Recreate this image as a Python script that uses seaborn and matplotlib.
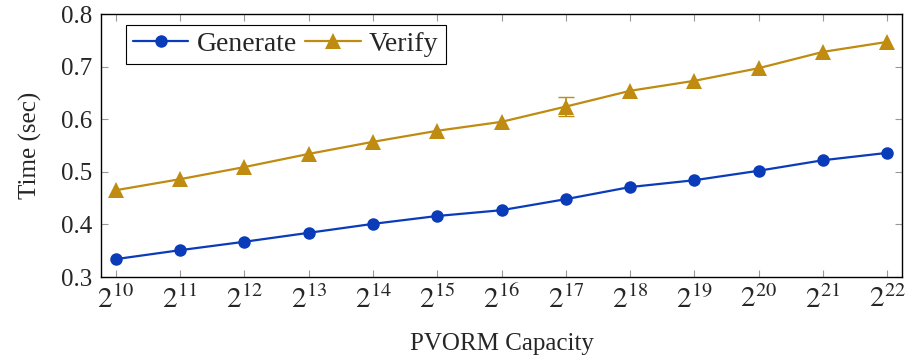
import numpy as np
import pandas as pd
import matplotlib
matplotlib.use("Agg")
import matplotlib.pyplot as plt
import seaborn as sns

sns.set_theme(style="ticks")
plt.rcParams['font.family'] = ['Liberation Serif', 'DejaVu Serif']
plt.rcParams['mathtext.fontset'] = 'stix'

# log2 of PVORM capacity
exponents = list(range(10, 23))
generate = [0.334, 0.351, 0.367, 0.384, 0.401, 0.416, 0.427, 0.448, 0.471, 0.484, 0.502, 0.522, 0.536]
verify = [0.465, 0.486, 0.509, 0.534, 0.557, 0.578, 0.595, 0.624, 0.654, 0.673, 0.697, 0.728, 0.747]
verify_err = [0.0, 0.0, 0.0, 0.0, 0.0, 0.0, 0.0, 0.018, 0.0, 0.0, 0.0, 0.0, 0.0]
tick_labels = [r'$2^{%d}$' % e for e in exponents]

blue = '#0a3cba'
gold = '#bf8b10'

df = pd.DataFrame({'exp': exponents * 2,
                   'time': generate + verify,
                   'series': ['Generate'] * len(exponents) + ['Verify'] * len(exponents)})

fig = plt.figure(figsize=(9.06, 3.62), dpi=100)
ax = fig.add_axes([0.1115, 0.2348, 0.8841, 0.7265])

sns.lineplot(data=df, x='exp', y='time', hue='series', style='series',
             palette={'Generate': blue, 'Verify': gold},
             markers={'Generate': 'o', 'Verify': '^'}, dashes=False,
             markersize=9, markeredgewidth=0, linewidth=1.6, ax=ax)
# triangles look a bit bigger in the original
for ln in ax.lines:
    if ln.get_marker() == '^':
        ln.set_markersize(12)

# only draw bars that are big enough to see
err = np.array(verify_err)
shown = err > 0.005
ax.errorbar(np.array(exponents)[shown], np.array(verify)[shown], yerr=err[shown],
            fmt='none', ecolor=gold, elinewidth=1.2, capsize=6, capthick=1.0, zorder=5)

ax.set_xlim(9.77, 22.23)
ax.set_ylim(0.3, 0.8)
ax.set_xticks(exponents)
ax.set_xticklabels(tick_labels, fontsize=21)
ax.set_yticks([0.3, 0.4, 0.5, 0.6, 0.7, 0.8])
ax.set_yticklabels(['0.3', '0.4', '0.5', '0.6', '0.7', '0.8'], fontsize=18)
ax.tick_params(direction='in', top=True, right=True, length=5, width=0.8,
               color='#999999', pad=6)
for s in ax.spines.values():
    s.set_color('black')
    s.set_linewidth(1.0)

ax.set_xlabel('PVORM Capacity', fontsize=18, labelpad=14)
ax.set_ylabel('Time (sec)', fontsize=18, labelpad=14)

leg = ax.legend(loc='upper left', ncol=2, fontsize=20, frameon=True, fancybox=False,
                framealpha=1, edgecolor='black', handlelength=2.0, handletextpad=0.3,
                columnspacing=0.3, borderpad=0.25, borderaxespad=0,
                bbox_to_anchor=(0.031, 0.96))
leg.get_frame().set_linewidth(0.8)
for h in leg.legend_handles:
    if h.get_marker() == '^':
        h.set_markersize(12)

fig.savefig('out.png', dpi=100)
